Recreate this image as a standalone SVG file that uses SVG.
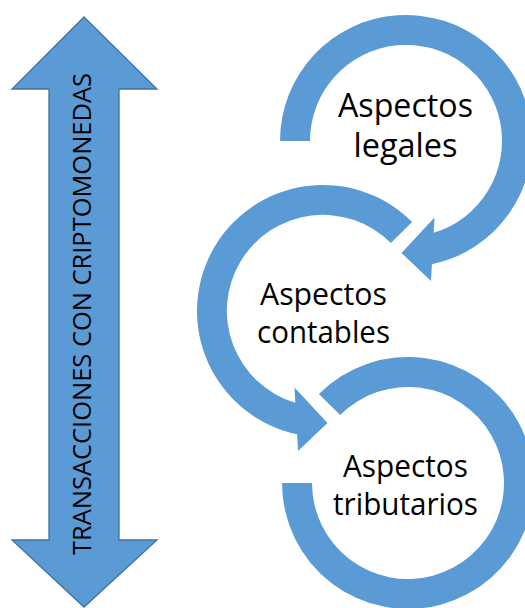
<svg xmlns="http://www.w3.org/2000/svg" width="525" height="608" viewBox="0 0 525 608">
<style>
.ring{fill:#5B9BD5;stroke:none}
.dbl{fill:#5B9BD5;stroke:#41719C;stroke-width:1.3;stroke-linejoin:miter}
.lbl{font-family:"Open Sans","Liberation Sans",sans-serif;fill:#000;text-anchor:middle}
.big{font-size:33px}
.mid{font-size:30.5px}
.vert{font-family:"Open Sans","Liberation Sans",sans-serif;font-size:26px;fill:#000;text-anchor:middle}
</style>
<rect width="525" height="608" fill="#FFFFFF"/>
<g id="transacciones">
<path class="dbl" d="M84,17 L157,89 L119,89 L119,540 L157,540 L84,607 L12,540 L49,540 L49,89 L12,89 Z"/>
<text class="vert" transform="translate(91,314) rotate(-90)" textLength="482" lengthAdjust="spacingAndGlyphs">TRANSACCIONES CON CRIPTOMONEDAS</text>
</g>
<g id="connectors"></g>
<g id="legales">
<path class="ring" d="M280,141 A126,126 0 1 1 431.9,264.3 L431,281 L401.5,253 L434.5,217.5 L433.7,232.8 A96,96 0 1 0 310,141 Z"/>
<text class="lbl big" x="405.5" y="117" textLength="135" lengthAdjust="spacingAndGlyphs">Aspectos</text>
<text class="lbl big" x="405.5" y="157" textLength="104" lengthAdjust="spacingAndGlyphs">legales</text>
</g>
<g id="contables">
<path class="ring" d="M412.1,221.9 A126,126 0 1 0 297.1,434.3 L298,451 L327.5,423 L294.5,387.5 L295.3,402.8 A96,96 0 1 1 390.9,243.1 Z"/>
<text class="lbl mid" x="323.5" y="305" textLength="127" lengthAdjust="spacingAndGlyphs">Aspectos</text>
<text class="lbl mid" x="323.5" y="343" textLength="133" lengthAdjust="spacingAndGlyphs">contables</text>
</g>
<g id="tributarios">
<path class="ring" d="M318.9,393.9 A126,126 0 1 1 282,483 L312,483 A96,96 0 1 0 340.1,415.1 Z"/>
<text class="lbl mid" x="405.5" y="477" textLength="125" lengthAdjust="spacingAndGlyphs">Aspectos</text>
<text class="lbl mid" x="405.5" y="515" textLength="145" lengthAdjust="spacingAndGlyphs">tributarios</text>
</g>
</svg>
